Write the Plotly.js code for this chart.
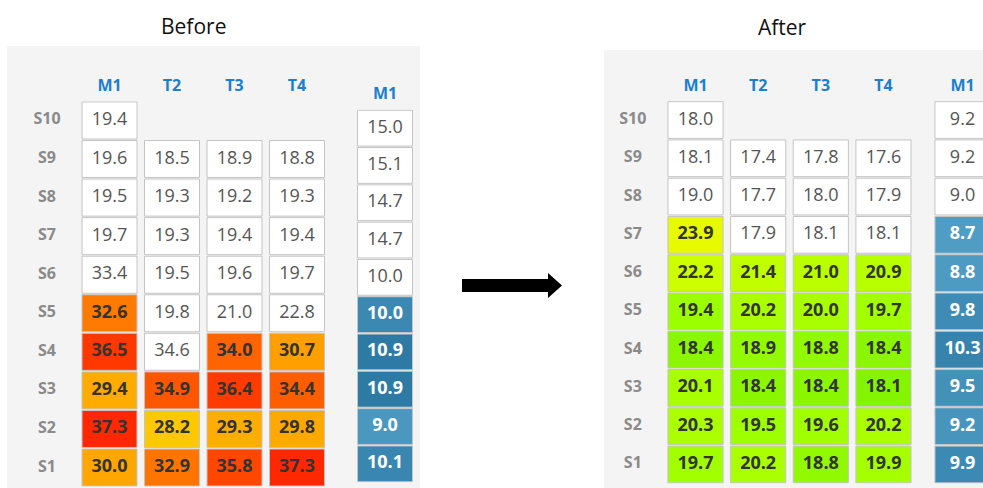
<!DOCTYPE html>
<html>
<head>
<meta charset="utf-8">
<script src="https://cdn.plot.ly/plotly-3.0.1.min.js"></script>
<style>html,body{margin:0;padding:0;background:#fff;}#chart{width:983px;height:488px;}</style>
</head>
<body>
<div id="chart"></div>
<script>
// ---------- data (rows listed bottom-up: S1 ... S10) ----------
const rows = ['S1','S2','S3','S4','S5','S6','S7','S8','S9','S10'];
const cols = ['M1','T2','T3','T4'];
const sideCols = ['M1'];
const panelTitles = ['Before','After'];

const beforeM1 = [30.0, 37.3, 29.4, 36.5, 32.6, 33.4, 19.7, 19.5, 19.6, 19.4];
const beforeT2 = [32.9, 28.2, 34.9, 34.6, 19.8, 19.5, 19.3, 19.3, 18.5, null];
const beforeT3 = [35.8, 29.3, 36.4, 34.0, 21.0, 19.6, 19.4, 19.2, 18.9, null];
const beforeT4 = [37.3, 29.8, 34.4, 30.7, 22.8, 19.7, 19.4, 19.3, 18.8, null];
const beforeSideM1 = [10.1, 9.0, 10.9, 10.9, 10.0, 10.0, 14.7, 14.7, 15.1, 15.0];

const afterM1 = [19.7, 20.3, 20.1, 18.4, 19.4, 22.2, 23.9, 19.0, 18.1, 18.0];
const afterT2 = [20.2, 19.5, 18.4, 18.9, 20.2, 21.4, 17.9, 17.7, 17.4, null];
const afterT3 = [18.8, 19.6, 18.4, 18.8, 20.0, 21.0, 18.1, 18.0, 17.8, null];
const afterT4 = [19.9, 20.2, 18.1, 18.4, 19.7, 20.9, 18.1, 17.9, 17.6, null];
const afterSideM1 = [9.9, 9.2, 9.5, 10.3, 9.8, 8.8, 8.7, 9.0, 9.2, 9.2];

// number of rows (from S1 upward) that carry conditional colouring
const beforeHighlightRows = [5, 3, 4, 4];
const beforeSideHighlightRows = [5];
const afterHighlightRows = [7, 6, 6, 6];
const afterSideHighlightRows = [7];

// ---------- styling ----------
const W = 983, H = 488;
const FONT = 'Open Sans, Noto Sans, sans-serif';
const CELL_W = 0.88, CELL_H = 0.96;
const VAL_SIZE = 18;
const BORDER = '#c4c4c4';
const warmScale = {cmin: 28.2, cmax: 37.3, colorscale: [
  [0,'#ffc800'],[0.13,'#ffab00'],[0.275,'#ffa000'],[0.48,'#ff7a00'],
  [0.64,'#ff6400'],[0.84,'#ff4600'],[1,'#ff2800']]};
const greenScale = {cmin: 18.1, cmax: 23.9, colorscale: [
  [0,'#84f500'],[0.22,'#9cff00'],[0.36,'#aaff00'],[0.5,'#baff00'],
  [0.71,'#ccff00'],[1,'#e8fa00']]};
const blueScale = {cmin: 8.7, cmax: 10.9, colorscale: [[0,'#4f9cc4'],[1,'#2d7ba5']]};

const px = v => v / W;
const py = v => 1 - v / H;

function panelTraces(colData, hiCounts, xa, ya, scale, hiTextColor) {
  const plain = {x: [], y: [], base: [], ry: [], v: []};
  const hi = {x: [], y: [], base: [], ry: [], v: []};
  colData.forEach((vals, ci) => {
    vals.forEach((v, ri) => {
      if (v === null || v === undefined) return;
      const t = ri < hiCounts[ci] ? hi : plain;
      t.x.push(ci); t.y.push(CELL_H); t.base.push(ri - CELL_H / 2);
      t.ry.push(ri); t.v.push(v);
    });
  });
  const out = [];
  out.push({type: 'bar', x: plain.x, y: plain.y, base: plain.base, width: CELL_W,
    marker: {color: '#ffffff', line: {color: BORDER, width: 1}},
    xaxis: xa, yaxis: ya, hoverinfo: 'skip', showlegend: false});
  out.push({type: 'bar', x: hi.x, y: hi.y, base: hi.base, width: CELL_W,
    marker: Object.assign({color: hi.v, showscale: false, line: {color: BORDER, width: 1}}, scale),
    xaxis: xa, yaxis: ya, hoverinfo: 'skip', showlegend: false});
  out.push({type: 'scatter', mode: 'text', x: plain.x, y: plain.ry,
    text: plain.v.map(v => v.toFixed(1)), textposition: 'middle center',
    textfont: {family: FONT, size: VAL_SIZE, color: '#555555'},
    xaxis: xa, yaxis: ya, hoverinfo: 'skip', showlegend: false});
  out.push({type: 'scatter', mode: 'text', x: hi.x, y: hi.ry,
    text: hi.v.map(v => v.toFixed(1)), textposition: 'middle center',
    textfont: {family: FONT, size: VAL_SIZE, color: hiTextColor, weight: 700},
    xaxis: xa, yaxis: ya, hoverinfo: 'skip', showlegend: false});
  return out;
}

// row labels sit one column-step left of the first column
function rowLabelTrace(xa, ya) {
  return {type: 'scatter', mode: 'text', x: rows.map(() => -1), y: rows.map((r, i) => i),
    text: rows, textposition: 'middle center',
    textfont: {family: FONT, size: 16, color: '#8a8a8a', weight: 700},
    xaxis: xa, yaxis: ya, hoverinfo: 'skip', showlegend: false};
}

const traces = [].concat(
  panelTraces([beforeM1, beforeT2, beforeT3, beforeT4], beforeHighlightRows, 'x', 'y', warmScale, '#333333'),
  panelTraces([beforeSideM1], beforeSideHighlightRows, 'x2', 'y2', blueScale, '#ffffff'),
  panelTraces([afterM1, afterT2, afterT3, afterT4], afterHighlightRows, 'x3', 'y3', greenScale, '#333333'),
  panelTraces([afterSideM1], afterSideHighlightRows, 'x4', 'y4', blueScale, '#ffffff'),
  [rowLabelTrace('x', 'y'), rowLabelTrace('x3', 'y3')]
);

function xAxis(domain, labels, range, anchor) {
  return {domain: domain, range: range, anchor: anchor, side: 'top',
    tickvals: labels.map((c, i) => i), ticktext: labels, ticks: '', ticklabelstandoff: 6,
    tickfont: {family: FONT, size: 16, color: '#1b7fcf', weight: 700},
    showgrid: false, zeroline: false, showline: false, fixedrange: true};
}
function yAxis(domain, anchor) {
  return {domain: domain, range: [-0.5, 9.5], anchor: anchor, showticklabels: false,
    ticks: '', showgrid: false, zeroline: false, showline: false, fixedrange: true};
}

const arrowPts = [[462,279],[548,279],[548,273],[562,285.5],[548,298],[548,292],[462,292]];
const arrowPath = 'M ' + arrowPts.map(p => px(p[0]).toFixed(5) + ',' + py(p[1]).toFixed(5)).join(' L ') + ' Z';

const layout = {
  width: W, height: H,
  margin: {l: 0, r: 0, t: 0, b: 0},
  paper_bgcolor: '#ffffff', plot_bgcolor: 'rgba(0,0,0,0)',
  barmode: 'overlay', showlegend: false,
  font: {family: FONT},
  xaxis: xAxis([px(78.25 - 62.5), px(328.25)], cols, [-1.5, 3.5], 'y'),
  yaxis: yAxis([py(486.8), py(101.2)], 'x'),
  xaxis2: xAxis([px(353.75), px(416.25)], sideCols, [-0.5, 0.5], 'y2'),
  yaxis2: yAxis([py(482.5), py(109.5)], 'x2'),
  xaxis3: xAxis([px(664.2 - 62.67), px(914.8)], cols, [-1.5, 3.5], 'y3'),
  yaxis3: yAxis([py(483.6), py(100.9)], 'x3'),
  xaxis4: xAxis([px(931.2), 1], sideCols, [-0.5, -0.5 + (983 - 931.2) / 62.67], 'y4'),
  yaxis4: yAxis([py(483.6), py(100.9)], 'x4'),
  shapes: [
    {type: 'rect', xref: 'paper', yref: 'paper', x0: px(7), x1: px(420), y0: 0, y1: py(46),
     fillcolor: '#f4f4f4', line: {width: 0}, layer: 'below'},
    {type: 'rect', xref: 'paper', yref: 'paper', x0: px(604), x1: 1, y0: 0, y1: py(50),
     fillcolor: '#f4f4f4', line: {width: 0}, layer: 'below'},
    {type: 'path', xref: 'paper', yref: 'paper', path: arrowPath,
     fillcolor: '#000000', line: {width: 0}}
  ],
  annotations: [
    {text: panelTitles[0], xref: 'paper', yref: 'paper', x: px(193), y: py(26),
     xanchor: 'center', yanchor: 'middle', showarrow: false,
     font: {family: FONT, size: 21, color: '#111111'}},
    {text: panelTitles[1], xref: 'paper', yref: 'paper', x: px(782), y: py(27),
     xanchor: 'center', yanchor: 'middle', showarrow: false,
     font: {family: FONT, size: 21, color: '#111111'}}
  ]
};

Plotly.newPlot('chart', traces, layout, {displayModeBar: false, staticPlot: true});
</script>
</body>
</html>
